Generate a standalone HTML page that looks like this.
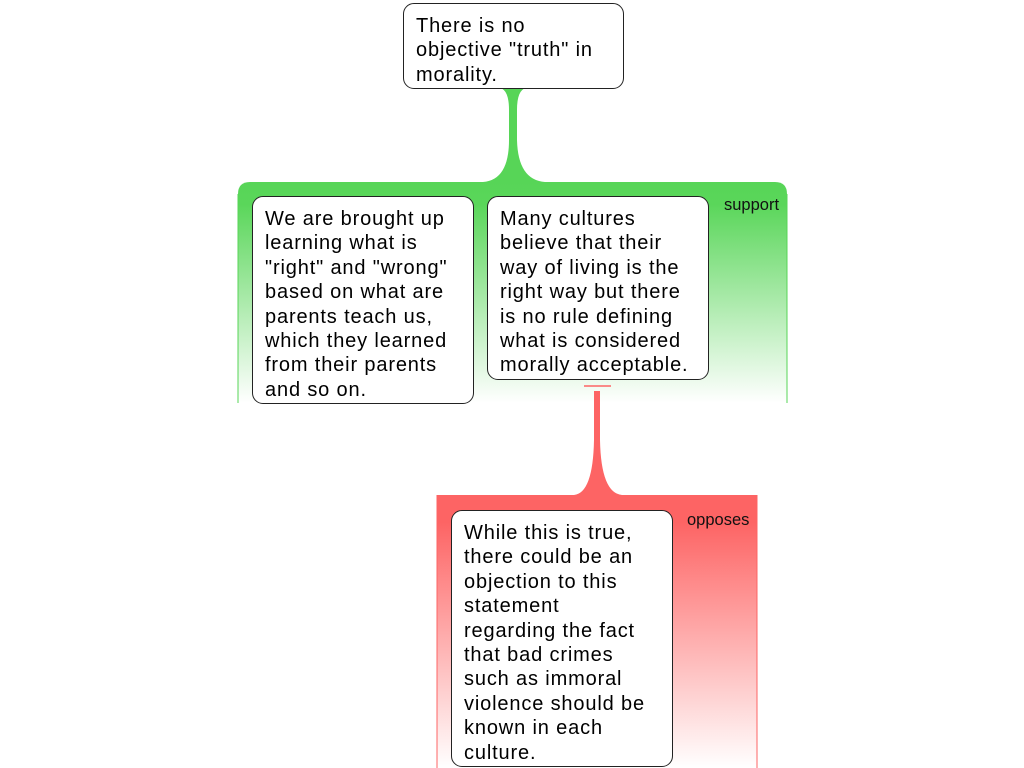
<!DOCTYPE html>
<html><head><style>
body{margin:0;width:1024px;height:768px;overflow:hidden;background:#fff;font-family:"Liberation Sans",sans-serif}
.b{position:absolute;background:#fff;border:1px solid #222;border-radius:11px;box-sizing:border-box;padding:10px 12px;font-size:20px;line-height:24.4px;color:#000;white-space:nowrap;letter-spacing:0.85px}
.l{position:absolute;font-size:16.5px;color:#111}
</style></head><body>
<svg width="1024" height="768" style="position:absolute;left:0;top:0">
<defs>
<linearGradient id="g" x1="0" y1="0" x2="0" y2="1"><stop offset="0" stop-color="#57d557"/><stop offset="0.1" stop-color="#5ad65a"/><stop offset="1" stop-color="#fff"/></linearGradient>
<linearGradient id="r" x1="0" y1="0" x2="0" y2="1"><stop offset="0" stop-color="#fd6464"/><stop offset="0.1" stop-color="#fd6464"/><stop offset="1" stop-color="#fff"/></linearGradient>
</defs>
<path d="M238,403 V194 Q238,182 250,182 H775 Q787,182 787,194 V403 Z" fill="url(#g)"/>
<path d="M238,403 V194" stroke="#57d557" stroke-width="1"/>
<path d="M787,403 V194" stroke="#57d557" stroke-width="1"/>
<path d="M500,88 H526 Q517,90 517,110 L517,140 Q518,180 545,182 H483 Q509,180 509,140 L509,110 Q509,90 500,88 Z" fill="#57d557"/>
<rect x="437" y="495" width="320" height="273" fill="url(#r)"/>
<path d="M437,495 V768 M757,495 V768" stroke="#fd6464"/>
<line x1="584" y1="386" x2="611" y2="386" stroke="#fd6464" stroke-width="1.5"/>
<path d="M594,391 H600 L600,440 Q601,493 622,495 H574 Q593,493 594,440 Z" fill="#fd6464"/>
</svg>
<div class="b" style="left:403px;top:3px;width:221px;height:86px">There is no<br>objective "truth" in<br>morality.</div>
<div class="b" style="left:252px;top:196px;width:222px;height:208px">We are brought up<br>learning what is<br>"right" and "wrong"<br>based on what are<br>parents teach us,<br>which they learned<br>from their parents<br>and so on.</div>
<div class="b" style="left:487px;top:196px;width:222px;height:184px">Many cultures<br>believe that their<br>way of living is the<br>right way but there<br>is no rule defining<br>what is considered<br>morally acceptable.</div>
<div class="b" style="left:451px;top:510px;width:222px;height:257px">While this is true,<br>there could be an<br>objection to this<br>statement<br>regarding the fact<br>that bad crimes<br>such as immoral<br>violence should be<br>known in each<br>culture.</div>
<div class="l" style="left:724px;top:196px">support</div>
<div class="l" style="left:687px;top:511px">opposes</div>
</body></html>
